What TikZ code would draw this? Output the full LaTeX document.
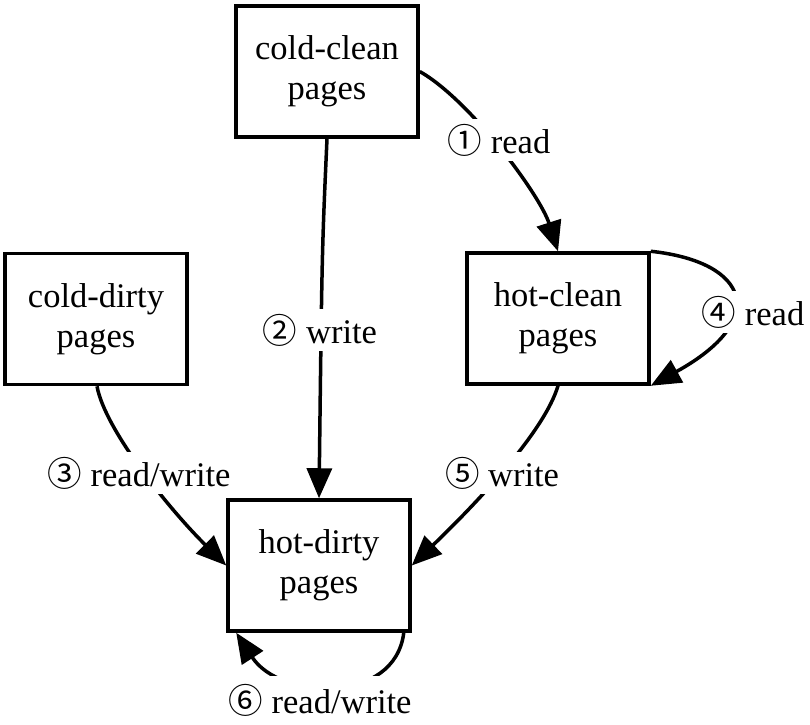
\documentclass[tikz,border=0pt]{standalone}
\usepackage{fontspec}
\setmainfont{Liberation Serif}
\newfontfamily\cjk{Noto Sans CJK SC}
\usetikzlibrary{arrows.meta}
\begin{document}
\begin{tikzpicture}[x=1pt,y=-1pt,
  box/.style={draw,line width=3.5pt,minimum width=182pt,minimum height=131pt,align=center,inner sep=0pt,font=\fontsize{34.5}{40}\selectfont},
  lbl/.style={fill=white,inner sep=5pt,font=\fontsize{34.5}{40}\selectfont},
  conn/.style={line width=3.5pt,-{Triangle[length=30pt,width=25pt]}},
  plainline/.style={line width=3.5pt}]
\useasboundingbox (0,0) rectangle (810,724);
\node[box] (cc) at (327,71.5) {cold-clean\\pages};
\node[box] (cd) at (96,319) {cold-dirty\\pages};
\node[box] (hc) at (558,318.5) {hot-clean\\pages};
\node[box] (hd) at (319,565.5) {hot-dirty\\pages};
% connectors
\draw[conn] (cc.east) .. controls (470,100) and (540,195) .. (hc.north);
\draw[conn] (cc.south) .. controls (322,250) .. (hd.north);
\draw[conn] ([xshift=1pt]cd.south) .. controls (105,430) and (170,510) .. (hd.west);
\draw[conn] (hc.north east) .. controls (750,262) and (770,320) .. (hc.south east);
\draw[conn] (hc.south) .. controls (545,430) and (480,500) .. (hd.east);
\draw[conn] ([xshift=-8pt]hd.south east) .. controls (395,705) and (280,700) .. ([xshift=10pt]hd.south west);
% labels
\node[lbl] (l1) at (499,140) {{\cjk ①} read};
\node[lbl] (l2) at (320,330) {{\cjk ②} write};
\node[lbl] (l3) at (139,473) {{\cjk ③} read/write};
\node[lbl] (l4) at (753,312) {{\cjk ④} read};
\node[lbl] (l5) at (502,473) {{\cjk ⑤} write};
\node[lbl,inner ysep=8pt] (l6) at (320,700) {{\cjk ⑥} read/write};
\end{tikzpicture}
\end{document}
